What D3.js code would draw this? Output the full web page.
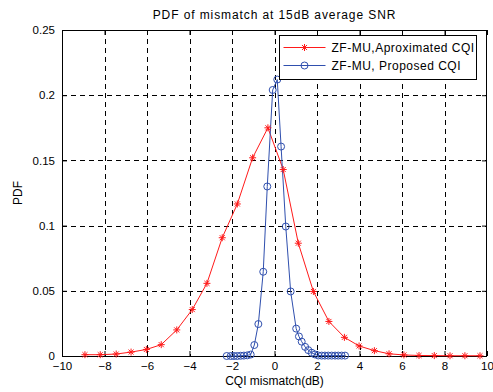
<!DOCTYPE html>
<html>
<head>
<meta charset="utf-8">
<script src="https://cdn.jsdelivr.net/npm/d3@7"></script>
<style>
  body { margin: 0; background: #fff; }
  svg text { font-family: "Liberation Sans", Arial, sans-serif; fill: #000; }
</style>
</head>
<body>
<div id="chart"></div>
<script>
// PDF of CQI mismatch
const redX = [-8.92, -8.2, -7.45, -6.75, -6.03, -5.33, -4.6, -3.87, -3.18, -2.46, -1.75, -1.03, -0.31, 0.41, 1.12,
  1.83, 2.56, 3.29, 3.98, 4.7, 5.39, 6.09, 6.8, 7.52, 8.26, 8.96, 9.67];
const redY = [0.001, 0.001, 0.0015, 0.003, 0.005, 0.0087, 0.02, 0.0356, 0.0557, 0.0907, 0.1166, 0.152, 0.175, 0.143, 0.0865,
  0.0495, 0.0265, 0.0143, 0.0077, 0.0041, 0.0017, 0.0008, 0.0004, 0.0003, 0.0002, 0.0002, 0.0002];

const blueX = [-2.25, -2.06, -1.91, -1.75, -1.59, -1.44, -1.28, -1.12, -0.95, -0.76, -0.53, -0.34, -0.085, 0.13, 0.31, 0.53, 0.76,
  1.02, 1.15, 1.28, 1.44, 1.59, 1.75, 1.9, 2.06, 2.22, 2.37, 2.53, 2.69, 2.85, 3.0, 3.16, 3.32];
const blueY = [0.0, 0.0, 0.0, 0.0, 0.0002, 0.0003, 0.0005, 0.0011, 0.0084, 0.0245, 0.0646, 0.130, 0.204, 0.212, 0.1606, 0.0993, 0.0495,
  0.021, 0.015, 0.011, 0.007, 0.0045, 0.0025, 0.0012, 0.0004, 0.0003, 0.0003, 0.0003, 0.0003, 0.0003, 0.0003, 0.0003, 0.0003];

const xTicks = [-10, -8, -6, -4, -2, 0, 2, 4, 6, 8, 10];
const yTicks = [0, 0.05, 0.1, 0.15, 0.2, 0.25];

const seriesNames = ['ZF-MU,Aproximated CQI', 'ZF-MU, Proposed CQI'];

const width = 493, height = 392;
const margin = { top: 30, right: 6, bottom: 36, left: 62 };
const red = '#ff1a1a', blue = '#2f4fae';

const svg = d3.select('#chart').append('svg')
  .attr('width', width)
  .attr('height', height);

const x = d3.scaleLinear().domain([-10, 10]).range([margin.left, width - margin.right]);
const y = d3.scaleLinear().domain([0, 0.25]).range([height - margin.bottom, margin.top]);

const x0 = x.range()[0], x1 = x.range()[1];
const y0 = y.range()[0], y1 = y.range()[1];

// grid
const grid = svg.append('g').attr('stroke', '#000').attr('stroke-width', 1).attr('stroke-dasharray', '5,4');
xTicks.slice(1, -1).forEach(t => {
  grid.append('line').attr('x1', Math.round(x(t)) + 0.5).attr('x2', Math.round(x(t)) + 0.5)
    .attr('y1', y1).attr('y2', y0);
});
yTicks.slice(1, -1).forEach(t => {
  grid.append('line').attr('y1', Math.round(y(t)) + 0.5).attr('y2', Math.round(y(t)) + 0.5)
    .attr('x1', x0).attr('x2', x1);
});

// axes with inward ticks, MATLAB style
const fmtY = d => d === 0 ? '0' : String(+d.toFixed(2));
svg.append('g').attr('transform', `translate(0,${y0})`)
  .call(d3.axisBottom(x).tickValues(xTicks).tickSizeInner(-5).tickSizeOuter(0).tickPadding(6))
  .call(g => g.select('.domain').remove())
  .call(g => g.selectAll('text').attr('font-size', 11.5));
svg.append('g').attr('transform', `translate(0,${y1})`)
  .call(d3.axisTop(x).tickValues(xTicks).tickSizeInner(-5).tickSizeOuter(0).tickFormat(''))
  .call(g => g.select('.domain').remove());
svg.append('g').attr('transform', `translate(${x0},0)`)
  .call(d3.axisLeft(y).tickValues(yTicks).tickSizeInner(-5).tickSizeOuter(0).tickPadding(7).tickFormat(fmtY))
  .call(g => g.select('.domain').remove())
  .call(g => g.selectAll('text').attr('font-size', 11.5));
svg.append('g').attr('transform', `translate(${x1},0)`)
  .call(d3.axisRight(y).tickValues(yTicks).tickSizeInner(-5).tickSizeOuter(0).tickFormat(''))
  .call(g => g.select('.domain').remove());

svg.append('rect').attr('x', x0 + 0.5).attr('y', y1 + 0.5)
  .attr('width', x1 - x0 - 1).attr('height', y0 - y1)
  .attr('fill', 'none').attr('stroke', '#000').attr('stroke-width', 1);

// lines
const line = d3.line().x(d => x(d[0])).y(d => y(d[1]));
const redData = d3.zip(redX, redY);
const blueData = d3.zip(blueX, blueY);

svg.append('path').datum(redData).attr('d', line)
  .attr('fill', 'none').attr('stroke', red).attr('stroke-width', 1);
svg.append('path').datum(blueData).attr('d', line)
  .attr('fill', 'none').attr('stroke', blue).attr('stroke-width', 1);

const star = (g, cx, cy) => {
  const r = 3.5;
  const p = g.append('g').attr('transform', `translate(${cx},${cy})`)
    .attr('stroke', red).attr('stroke-width', 1);
  p.append('line').attr('x1', -r).attr('x2', r).attr('y1', 0).attr('y2', 0);
  p.append('line').attr('x1', 0).attr('x2', 0).attr('y1', -r).attr('y2', r);
  p.append('line').attr('x1', -r * 0.72).attr('x2', r * 0.72).attr('y1', -r * 0.72).attr('y2', r * 0.72);
  p.append('line').attr('x1', -r * 0.72).attr('x2', r * 0.72).attr('y1', r * 0.72).attr('y2', -r * 0.72);
};

const stars = svg.append('g');
redData.forEach(d => star(stars, x(d[0]), y(d[1])));

svg.append('g').selectAll('circle').data(blueData).join('circle')
  .attr('cx', d => x(d[0])).attr('cy', d => y(d[1])).attr('r', 3.5)
  .attr('fill', 'none').attr('stroke', blue).attr('stroke-width', 1);

// legend
const lg = svg.append('g').attr('transform', 'translate(279.5,35.5)');
lg.append('rect').attr('width', 197).attr('height', 44)
  .attr('fill', '#fff').attr('stroke', '#000').attr('stroke-width', 1);
seriesNames.forEach((name, i) => {
  const ly = 12 + i * 18;
  lg.append('line').attr('x1', 4).attr('x2', 46).attr('y1', ly).attr('y2', ly)
    .attr('stroke', i === 0 ? red : blue).attr('stroke-width', 1);
  if (i === 0) star(lg, 25, ly);
  else lg.append('circle').attr('cx', 25).attr('cy', ly).attr('r', 3.5)
    .attr('fill', 'none').attr('stroke', blue);
  lg.append('text').attr('x', 52).attr('y', ly + 4).attr('font-size', 12)
    .attr('letter-spacing', 0.5).text(name);
});

// labels
svg.append('text').attr('x', (x0 + x1) / 2).attr('y', 19).attr('text-anchor', 'middle')
  .attr('font-size', 12).attr('letter-spacing', 0.9).text('PDF of mismatch at 15dB average SNR');
svg.append('text').attr('x', (x0 + x1) / 2).attr('y', 385).attr('text-anchor', 'middle')
  .attr('font-size', 12).text('CQI mismatch(dB)');
svg.append('text').attr('transform', `translate(22,${(y0 + y1) / 2}) rotate(-90)`)
  .attr('text-anchor', 'middle').attr('font-size', 12).text('PDF');
</script>
</body>
</html>
